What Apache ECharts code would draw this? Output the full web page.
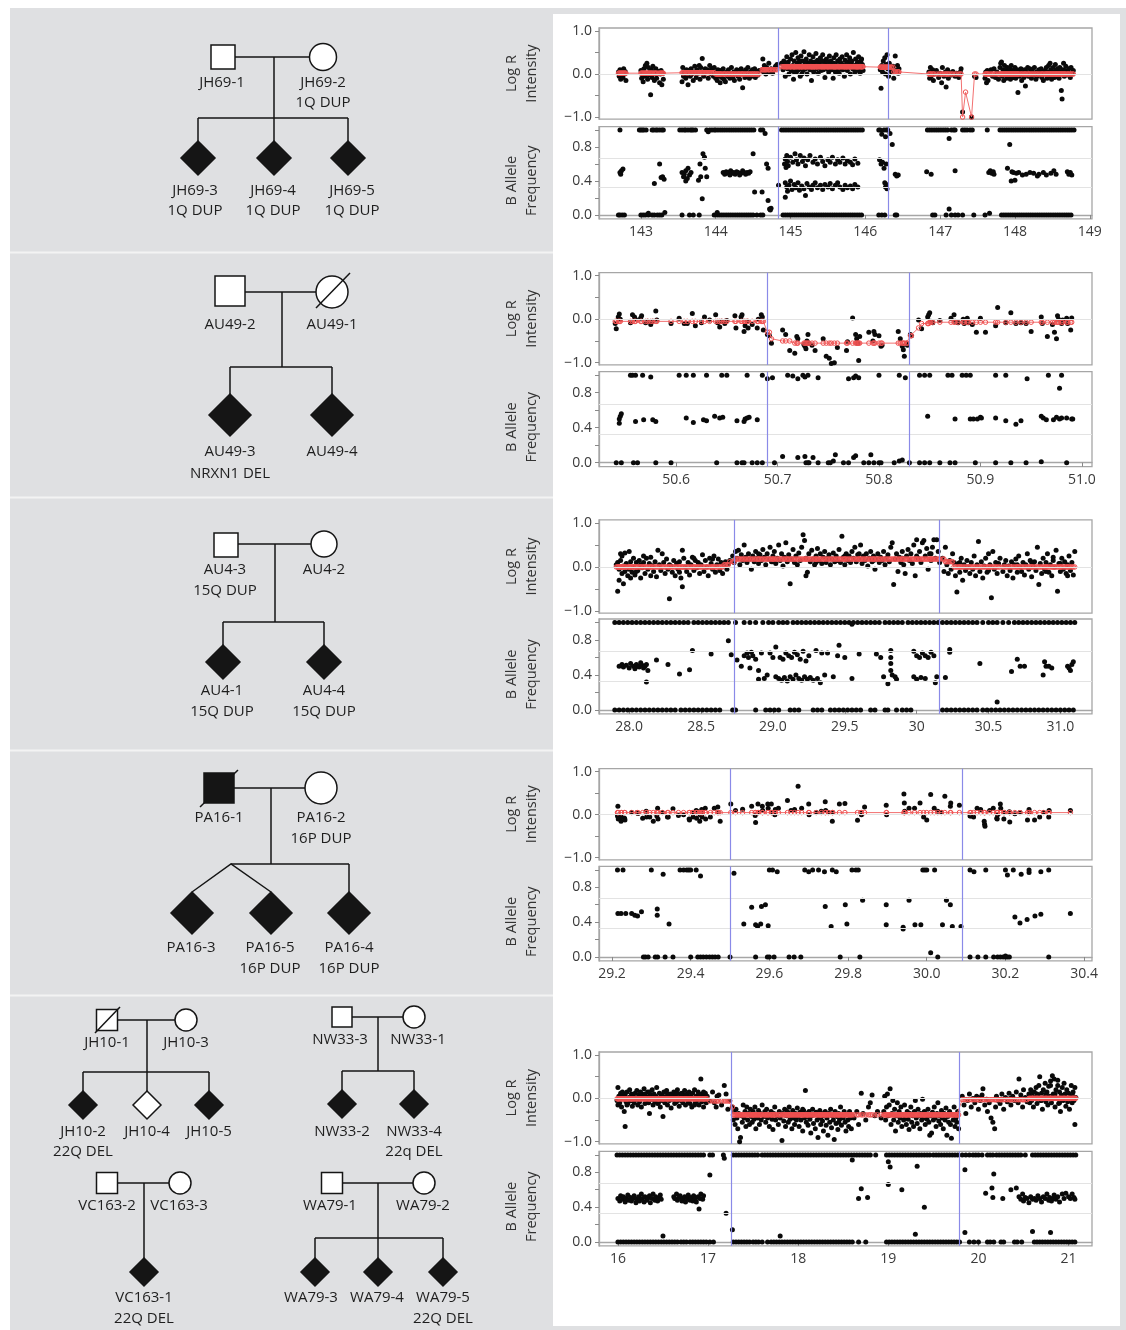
<!DOCTYPE html>
<html><head><meta charset="utf-8">
<script src="https://cdn.jsdelivr.net/npm/echarts@6/dist/echarts.min.js"></script>
<style>html,body{margin:0;padding:0;background:#fff}#c{width:1126px;height:1330px}</style>
</head><body><div id="c"></div>
<script>
// ---------------- tick values / labels ----------------
const LR_TICKS = [-1, -0.5, 0, 0.5, 1];
const LR_LABEL_VALUES = [-1, 0, 1];
const LR_LABELS = ['\u22121.0', '0.0', '1.0'];
const BAF_TICKS = [0, 0.2, 0.4, 0.6, 0.8, 1];
const BAF_LABEL_VALUES = [0, 0.4, 0.8];
const BAF_LABELS = ['0.0', '0.4', '0.8'];
const X1_TICKS = [143, 144, 145, 146, 147, 148, 149];
const X1_LABELS = ['143', '144', '145', '146', '147', '148', '149'];
const X2_TICKS = [50.6, 50.7, 50.8, 50.9, 51.0];
const X2_LABELS = ['50.6', '50.7', '50.8', '50.9', '51.0'];
const X3_TICKS = [28, 28.5, 29, 29.5, 30, 30.5, 31];
const X3_LABELS = ['28.0', '28.5', '29.0', '29.5', '30', '30.5', '31.0'];
const X4_TICKS = [29.2, 29.4, 29.6, 29.8, 30.0, 30.2, 30.4];
const X4_LABELS = ['29.2', '29.4', '29.6', '29.8', '30.0', '30.2', '30.4'];
const X5_TICKS = [16, 17, 18, 19, 20, 21];
const X5_LABELS = ['16', '17', '18', '19', '20', '21'];

// ---------------- breakpoints ----------------
const BRK1 = [144.83, 146.30];
const BRK2 = [50.692, 50.831];
const BRK3 = [28.727, 30.165];
const BRK4 = [29.505, 30.086];
const BRK5 = [17.26, 19.79];

// ---------------- row 1 (1q) ----------------
const LR1 = [142.70,.05,142.71,-.05,142.72,.1,142.73,-.12,142.74,.02,142.75,.08,142.76,-.08,142.77,.12,142.78,0,142.8,-.15,142.79,.06,
143.0,.08,143.01,-.1,143.02,.02,143.03,-.18,143.04,.12,143.05,-.05,143.06,.2,143.07,0,143.08,.25,143.09,-.12,143.1,.15,143.11,-.02,143.12,.05,143.13,-.48,143.14,.1,143.15,-.08,143.16,.18,143.18,-.15,143.19,.03,143.2,.12,143.21,-.1,143.23,.06,143.25,-.2,143.26,0,143.27,.08,143.28,-.25,143.3,-.12,143.29,.02,
143.55,-.18,143.56,.15,143.57,-.05,143.58,.05,143.6,-.1,143.61,.1,143.62,-.02,143.63,-.25,143.64,.08,143.66,-.05,143.67,.12,143.68,0,143.7,-.15,143.71,.05,143.72,.18,143.74,-.08,143.75,.1,143.76,.02,143.78,.2,143.79,-.12,143.8,.15,143.82,.36,143.83,.05,143.84,-.05,143.86,.12,143.87,.03,143.88,.1,143.9,-.1,143.91,.08,143.92,.2,143.94,0,143.95,.12,143.97,-.05,143.98,.15,
144.0,-.1,144.01,.05,144.02,-.15,144.03,.1,144.04,-.05,144.05,0,144.06,-.2,144.07,.08,144.08,-.08,144.1,.12,144.11,-.12,144.12,.02,144.13,-.18,144.15,.05,144.16,-.05,144.17,.1,144.19,-.1,144.2,0,144.21,.15,144.23,-.08,144.24,.05,144.25,-.15,144.27,.02,144.28,.1,144.3,-.05,144.31,.08,144.32,-.12,144.34,.12,144.35,0,144.36,-.32,144.37,.05,144.39,-.08,144.4,.1,144.42,-.02,144.43,.15,144.45,-.1,144.46,.05,144.48,-.05,144.49,.1,144.5,0,144.52,.12,144.53,-.08,144.55,.05,144.56,-.03,144.58,.08,
144.62,.1,144.63,.35,144.64,.05,144.65,.2,144.66,.12,144.67,0,144.68,.15,144.7,.08,144.71,.25,144.72,.05,144.74,.12,144.76,.02,144.78,.1,144.8,.18,144.82,.22,
144.88,.25,144.9,.1,144.91,.3,144.92,.15,144.93,-.05,144.94,.22,144.95,.4,144.96,.12,144.97,.28,144.98,0,144.99,.18,145.0,.35,145.01,.08,145.02,.45,145.03,.2,145.04,-.12,145.05,.3,145.06,.15,145.07,.5,145.08,.05,145.09,.25,145.1,.38,145.11,.1,145.12,.22,145.13,-.05,145.14,.42,145.15,.18,145.16,.3,145.17,.08,145.18,.52,145.19,.2,145.2,.12,145.21,.35,145.22,0,145.23,.25,145.24,.15,145.25,.45,145.26,.1,145.27,.3,145.28,-.15,145.29,.22,145.3,.4,145.31,.05,145.32,.28,145.33,.18,145.34,.48,145.35,.12,145.36,.32,145.37,.02,145.38,.25,145.39,.15,145.4,.38,145.41,.08,145.42,.2,145.43,.45,145.44,.1,145.45,.3,145.46,-.08,145.47,.22,145.48,.35,145.49,.12,145.5,.28,145.51,.05,145.52,.42,145.53,.18,145.54,.3,145.55,.1,145.56,.25,145.57,-.1,145.58,.38,145.59,.15,145.6,.22,145.61,.45,145.62,.08,145.63,.3,145.64,.18,145.65,.02,145.66,.35,145.67,.12,145.68,.25,145.69,.4,145.7,.1,145.71,.2,145.72,-.05,145.73,.32,145.74,.15,145.75,.45,145.76,.08,145.77,.28,145.78,.18,145.79,.38,145.8,0,145.81,.22,145.82,.3,145.83,.12,145.84,.5,145.85,.2,145.86,.05,145.87,.35,145.88,.15,145.89,.25,145.9,.1,145.91,.4,145.92,.18,145.93,.02,145.94,.3,145.95,.12,145.96,.22,145.97,.08,
144.95,.2,145.05,.05,145.12,.3,145.2,.25,145.28,.1,145.35,.22,145.42,.3,145.5,.15,145.58,.25,145.65,.2,145.72,.12,145.8,.3,145.88,.08,145.95,.35,145.0,.15,145.15,0,145.3,.2,145.45,.2,145.6,.05,145.75,.25,145.9,.28,
146.2,.1,146.21,-.33,146.22,.2,146.23,.05,146.24,.3,146.25,.15,146.26,.38,146.27,0,146.28,.22,146.29,.45,146.3,.12,146.31,-.05,146.32,.25,146.34,.1,146.35,.05,146.37,.18,146.38,-.1,146.4,.42,146.41,.08,146.43,.2,146.44,.02,146.45,.12,
146.85,.05,146.86,-.1,146.87,.15,146.88,-.05,146.9,.1,146.91,-.15,146.92,0,146.95,.08,146.98,-.08,147.0,.02,147.02,-.2,147.03,.15,147.05,-.05,147.07,.05,147.08,-.3,147.1,.1,147.11,-.1,147.13,.03,147.15,-.02,147.17,.06,147.2,-.05,147.22,.02,147.25,-.08,147.27,.05,147.28,.12,
147.3,-.88,147.42,-1.0,147.46,-.05,147.48,-.08,
147.6,-.1,147.61,.05,147.62,-.2,147.63,.08,147.64,-.15,147.66,0,147.68,.1,147.7,-.05,147.72,.12,147.74,-.08,147.76,.05,147.78,-.12,147.8,.15,147.81,.25,147.82,.28,147.83,-.05,147.84,.1,147.85,-.15,147.86,.2,147.87,0,147.88,.08,147.89,-.1,147.9,.15,147.91,.05,147.92,-.05,147.93,.12,147.94,-.12,147.95,.2,147.96,0,147.97,.08,147.98,-.08,147.99,.05,148.0,.15,148.01,-.1,148.02,.02,148.03,.1,148.04,-.43,148.05,.05,148.06,-.05,148.08,.12,148.09,-.15,148.1,.03,148.12,-.08,148.13,.1,148.14,-.28,148.15,.05,148.17,.15,148.18,-.05,148.19,.02,148.2,.12,148.22,-.1,148.23,.08,148.25,-.02,148.26,.15,148.28,-.12,148.29,.05,148.3,-.05,148.32,.1,148.33,0,148.35,.12,148.36,-.08,148.37,.05,148.38,-.15,148.4,.08,148.41,.02,148.42,.15,148.43,-.1,148.44,.05,148.45,.2,148.46,-.05,148.47,.25,148.48,.1,148.49,-.12,148.5,.05,148.51,.15,148.52,0,148.53,-.08,148.54,.22,148.55,.08,148.56,-.05,148.57,.12,148.58,.02,148.59,-.1,148.6,.15,148.61,.05,148.62,-.38,148.63,-.58,148.64,.1,148.65,.25,148.66,-.05,148.67,.08,148.68,.18,148.7,-.02,148.71,.05,148.72,.12,148.74,-.08,148.75,.15,148.77,.02,148.78,.08];
const SEG1 = [[142.6,143.4,.02],[143.4,144.0,.03],[144.0,144.6,0],[144.6,144.85,.1],[144.85,146.1,.17],[146.1,146.38,.16],[146.38,146.6,.05],[146.6,147.29,0],[147.29,147.33,-1.0],[147.33,147.37,-.42],[147.37,147.44,-1.0],[147.44,149.2,0]];
const RED1_EXTRA = [147.34,-.42];
const B1_TOP = [142.72,142.98,143.0,143.02,143.04,143.07,143.15,143.17,143.2,143.22,143.25,143.28,143.3,143.52,143.55,143.58,143.6,143.63,143.66,143.68,143.7,143.73,143.88,143.92,143.95,143.98,144.0,144.03,144.06,144.09,144.12,144.15,144.18,144.21,144.24,144.27,144.3,144.33,144.36,144.39,144.42,144.45,144.48,144.51,144.6,144.63,144.88,144.91,144.94,144.97,145.0,145.03,145.06,145.09,145.12,145.15,145.18,145.21,145.24,145.27,145.3,145.33,145.36,145.39,145.42,145.45,145.48,145.51,145.54,145.57,145.6,145.63,145.66,145.69,145.72,145.75,145.78,145.81,145.84,145.87,145.9,145.93,145.96,146.18,146.2,146.25,146.28,146.3,146.83,146.86,146.89,146.92,146.95,146.98,147.01,147.04,147.07,147.1,147.15,147.18,147.2,147.3,147.33,147.36,147.4,147.43,147.63,147.8,147.83,147.86,147.89,147.92,147.95,147.98,148.01,148.04,148.07,148.1,148.13,148.16,148.19,148.22,148.25,148.28,148.31,148.34,148.37,148.4,148.43,148.46,148.49,148.52,148.55,148.58,148.61,148.64,148.67,148.7,148.73,148.76,148.79];
const B1_BOT = [142.7,142.72,142.75,142.78,143.0,143.03,143.06,143.1,143.15,143.18,143.22,143.25,143.28,143.55,143.65,143.7,143.78,143.98,144.02,144.05,144.08,144.11,144.14,144.17,144.2,144.23,144.26,144.29,144.32,144.35,144.38,144.41,144.44,144.47,144.5,144.55,144.6,144.63,144.9,144.93,144.96,144.99,145.02,145.05,145.08,145.11,145.14,145.17,145.2,145.23,145.26,145.29,145.32,145.35,145.38,145.41,145.44,145.47,145.5,145.53,145.56,145.59,145.62,145.65,145.68,145.71,145.74,145.77,145.8,145.83,145.86,145.89,145.92,145.95,146.18,146.22,146.26,146.4,146.42,146.9,146.93,147.08,147.15,147.2,147.24,147.3,147.45,147.6,147.82,147.85,147.88,147.91,147.94,147.97,148.0,148.03,148.06,148.09,148.12,148.15,148.18,148.21,148.24,148.27,148.3,148.33,148.36,148.39,148.42,148.45,148.48,148.51,148.54,148.57,148.6,148.63,148.66,148.69,148.72,148.75];
const B1_HET = [142.72,.5,142.74,.52,142.76,.54,142.73,.48,143.18,.37,143.25,.6,143.29,.45,143.31,.42,143.27,.44,143.32,.03,143.1,.02,
143.55,.5,143.57,.45,143.58,.48,143.6,.52,143.62,.43,143.63,.55,143.65,.47,143.6,.4,143.67,.5,143.77,.41,143.79,.6,143.8,.45,143.82,.19,143.83,.72,143.85,.68,143.86,.55,143.88,.45,143.9,.98,144.02,.03,
144.1,.5,144.12,.48,144.14,.51,144.15,.49,144.17,.5,144.19,.47,144.2,.52,144.22,.49,144.24,.5,144.26,.48,144.28,.51,144.3,.5,144.32,.47,144.34,.49,144.36,.52,144.38,.5,144.4,.48,144.42,.5,144.44,.49,144.46,.51,
144.5,.72,144.52,.27,144.62,.27,144.68,.6,144.7,.55,144.7,.17,144.72,.07,144.74,.08,144.73,.06,144.66,.96,144.84,.35,
144.92,.6,144.93,.66,144.94,.56,144.95,.7,144.96,.63,144.97,.58,145.0,.68,145.03,.62,145.06,.72,145.08,.65,145.1,.6,145.13,.7,145.16,.63,145.18,.67,145.2,.58,145.23,.65,145.26,.7,145.3,.62,145.33,.66,145.36,.6,145.4,.68,145.43,.63,145.46,.58,145.5,.65,145.53,.62,145.56,.68,145.6,.6,145.63,.65,145.66,.62,145.7,.67,145.73,.6,145.76,.64,145.8,.62,145.83,.59,145.86,.66,145.9,.61,
144.93,.38,144.95,.33,144.96,.28,144.98,.35,145.0,.4,145.02,.3,145.05,.36,145.07,.32,145.1,.38,145.12,.29,145.15,.34,145.18,.31,145.2,.23,145.22,.37,145.25,.33,145.28,.3,145.3,.35,145.33,.38,145.36,.32,145.4,.35,145.43,.3,145.46,.36,145.5,.33,145.53,.37,145.56,.31,145.6,.35,145.63,.38,145.66,.33,145.7,.3,145.73,.35,145.76,.32,145.8,.34,145.83,.31,145.86,.36,145.9,.33,144.93,.21,
146.19,.65,146.21,.6,146.23,.62,146.25,.55,146.26,.38,146.27,.33,146.28,.36,146.29,.31,146.28,.6,146.22,.95,146.27,.92,146.33,.96,146.36,.83,146.4,.48,146.42,.46,146.44,.47,
146.82,.51,146.88,.48,147.12,.9,147.2,.52,147.12,.07,147.66,.02,
147.65,.5,147.67,.52,147.69,.49,147.71,.51,147.72,.48,147.9,.55,147.93,.83,147.95,.4,148.0,.41,147.96,.51,147.98,.5,148.02,.49,148.05,.5,148.1,.47,148.15,.48,148.2,.5,148.25,.49,148.3,.46,148.32,.48,148.38,.5,148.42,.47,148.48,.49,148.52,.52,148.55,.48,148.7,.51,148.72,.48,148.74,.5,148.76,.47];

// ---------------- row 2 (NRXN1) ----------------
const LR2 = [50.540,-.1,50.541,-.22,50.543,.05,50.544,.12,50.545,0,50.555,-.08,50.557,.1,50.559,.05,50.56,0,50.565,.02,50.566,.08,50.57,-.08,50.572,-.05,50.575,-.12,50.577,-.05,50.58,.19,50.581,-.02,50.595,-.1,50.603,.02,50.608,-.1,50.611,-.1,50.616,.13,50.619,-.15,50.625,-.08,50.628,.05,50.633,-.02,50.639,.1,50.641,-.08,50.643,-.18,50.645,-.05,50.648,-.1,50.650,-.03,50.658,.08,50.659,-.2,50.664,.05,50.665,.1,50.667,-.28,50.668,-.15,50.670,-.05,50.671,-.2,50.675,-.12,50.680,-.2,50.681,0,50.684,.1,50.685,.05,50.686,-.25,50.690,-.35,50.692,-.38,50.694,-.55,50.705,-.25,50.708,-.35,50.712,-.72,50.717,-.78,50.719,-.4,50.72,-.45,50.726,-.58,50.727,-.62,50.728,-.68,50.729,-.5,50.730,-.35,50.731,-.55,50.734,-.6,50.737,-.72,50.745,-.45,50.748,-.85,50.751,-.9,50.753,-1.02,50.756,-1.0,50.759,-.65,50.768,-.72,50.769,-.52,50.774,.03,50.777,-.35,50.778,-.45,50.779,-.55,50.780,-.95,50.781,-.4,50.79,-.3,50.794,-.5,50.795,-.28,50.796,-.35,50.8,-.38,50.802,-.62,50.803,-.6,50.819,-.28,50.821,-.45,50.823,-.62,50.824,-.7,50.825,-.85,50.827,-.55,50.828,-.6,50.831,-.35,50.832,-.38,50.839,-.02,50.842,-.22,50.848,.05,50.849,.1,50.85,.15,50.851,-.05,50.853,-.08,50.86,-.03,50.871,.02,50.874,.1,50.875,-.05,50.878,-.08,50.883,0,50.884,-.1,50.887,.02,50.888,-.08,50.892,-.12,50.896,-.3,50.9,.02,50.905,-.3,50.915,-.15,50.917,.27,50.925,-.08,50.930,.15,50.935,-.1,50.940,-.08,50.945,-.1,50.950,-.28,50.960,.05,50.961,-.1,50.966,-.4,50.971,-.12,50.973,-.3,50.975,-.45,50.976,.08,50.977,0,50.980,-.1,50.981,-.02,50.985,.02,50.986,-.1,50.989,-.25,50.99,.03];
const SEG2 = [[50.5,50.689,-.05],[50.689,50.693,-.3],[50.693,50.7,-.45],[50.7,50.715,-.5],[50.715,50.83,-.55],[50.83,50.835,-.38],[50.835,50.84,-.2],[50.84,50.85,-.1],[50.85,51.1,-.07]];
const RED2_EXTRA = [];
const B2_TOP = [50.555,50.557,50.56,50.567,50.603,50.61,50.617,50.63,50.645,50.65,50.67,50.685,50.71,50.725,50.73,50.8,50.82,50.84,50.845,50.85,50.868,50.872,50.882,50.886,50.89,50.915,50.925,50.967,50.98];
const B2_BOT = [50.541,50.546,50.558,50.562,50.58,50.595,50.64,50.66,50.665,50.667,50.675,50.68,50.685,50.697,50.728,50.73,50.731,50.74,50.75,50.752,50.765,50.77,50.785,50.79,50.795,50.8,50.802,50.815,50.83,50.84,50.845,50.85,50.86,50.87,50.875,50.895,50.915,50.93,50.945,50.985];
const B2_HET = [50.544,.5,50.545,.53,50.546,.56,50.544,.45,50.56,.47,50.568,.49,50.577,.49,50.58,.47,50.61,.51,50.617,.46,50.627,.49,50.63,.48,50.638,.53,50.643,.51,50.646,.52,50.66,.48,50.667,.47,50.668,.5,50.67,.51,50.672,.52,50.68,.49,50.848,.53,50.875,.5,50.89,.5,50.893,.5,50.897,.5,50.9,.52,50.901,.51,50.915,.51,50.925,.48,50.935,.44,50.94,.48,50.96,.53,50.962,.51,50.965,.49,50.972,.49,50.975,.52,50.978,.5,50.98,.51,50.985,.51,50.99,.5,50.991,.5,50.575,.98,50.69,.96,50.695,.97,50.715,.99,50.72,.96,50.727,.98,50.74,.97,50.77,.96,50.775,.97,50.777,.99,50.78,.97,50.826,.97,50.946,.96,50.978,.85,50.705,.07,50.72,.06,50.727,.07,50.735,.06,50.755,.02,50.757,.09,50.775,.06,50.777,.08,50.792,.09,50.82,.02,50.823,.03,50.96,.01];

// ---------------- row 3 (15q) ----------------
const LR3 = [27.91,.05,27.92,-.55,27.92,.1,27.93,-.3,27.93,-.05,27.94,.15,27.95,-.15,27.95,.25,27.96,-.38,27.96,.02,27.97,.32,27.97,-.1,27.98,.08,27.99,-.2,28.0,.35,28.0,-.05,28.01,.12,28.02,-.12,28.03,.2,28.03,0,28.04,-.18,28.05,.1,28.06,-.08,28.07,.15,28.08,-.25,28.08,.05,28.09,-.02,28.1,.1,28.11,-.15,28.12,.2,28.13,-.05,28.14,.08,28.15,-.2,28.16,.03,28.17,-.1,28.18,.12,28.19,-.22,28.2,.38,28.21,.05,28.22,-.08,28.23,.3,28.24,.1,28.25,-.15,28.26,.18,28.27,-.05,28.28,-.72,28.29,.02,28.3,-.12,28.31,.15,28.32,-.2,28.33,.08,28.34,-.05,28.35,.12,28.36,-.25,28.37,.38,28.37,-.45,28.38,.2,28.39,0,28.4,-.1,28.41,.1,28.42,-.18,28.43,.05,28.44,.22,28.45,-.08,28.46,.15,28.47,-.02,28.48,.1,28.49,-.15,28.5,.05,28.51,.28,28.52,-.1,28.53,.15,28.54,0,28.55,-.2,28.56,.2,28.57,.08,28.58,-.05,28.59,.25,28.6,-.12,28.61,.05,28.62,.18,28.63,-.08,28.64,.1,28.65,-.15,28.66,.02,28.67,.12,28.68,-.05,28.69,.08,28.7,.15,27.94,.3,28.01,-.25,28.1,.25,28.15,.22,28.28,.05,28.45,.2,28.58,.18,28.05,-.1,28.35,-.12,
28.72,.25,28.73,.1,28.74,.35,28.75,.2,28.76,.38,28.77,.05,28.78,.28,28.79,.15,28.8,.5,28.81,.22,28.82,.1,28.83,.3,28.84,.18,28.85,-.05,28.86,.25,28.87,.12,28.88,.35,28.89,.2,28.9,.08,28.91,.28,28.92,.15,28.93,.4,28.94,.22,28.95,.05,28.96,.3,28.97,.18,28.98,.45,28.99,.12,29.0,.25,29.01,.35,29.02,.08,29.03,.2,29.04,.5,29.05,.15,29.06,.3,29.07,.02,29.08,.22,29.09,.55,29.1,.12,29.11,.28,29.12,-.38,29.13,.18,29.14,.4,29.15,.1,29.16,.25,29.17,.05,29.18,.32,29.19,.15,29.2,.45,29.21,.73,29.22,.6,29.23,-.2,29.23,.2,29.24,-.12,29.25,.3,29.26,.12,29.27,.38,29.28,.18,29.29,.05,29.3,.25,29.31,.42,29.32,.15,29.33,.3,29.34,.08,29.35,.22,29.36,.35,29.37,.1,29.38,.2,29.39,.28,29.4,.05,29.41,.18,29.42,.32,29.43,.12,29.44,.25,29.45,.15,29.46,.4,29.47,.1,29.48,.7,29.49,.22,29.5,.05,29.51,.3,29.52,.15,29.53,.25,29.54,.1,29.55,.35,29.56,.2,29.57,.45,29.58,.12,29.59,.28,29.6,.18,29.61,.5,29.62,.08,29.63,.25,29.64,.15,29.65,.3,29.66,.02,29.67,.2,29.68,.35,29.69,.12,29.7,.25,29.71,-.05,29.72,.18,29.73,.3,29.74,.1,29.75,.22,29.76,.15,29.77,.35,29.78,.05,29.79,.2,29.8,.28,29.81,.12,29.82,.45,29.83,.55,29.84,-.4,29.85,.18,29.86,.3,29.87,-.1,29.88,.22,29.89,.1,29.9,.35,29.91,.05,29.92,-.15,29.93,.25,29.94,.4,29.95,.15,29.96,.3,29.97,.08,29.98,.5,29.99,-.2,30.0,.62,30.01,.2,30.02,.35,30.03,.1,30.04,.55,30.05,.6,30.06,.25,30.07,.42,30.08,-.05,30.09,.3,30.1,.15,30.11,.45,30.12,.62,30.13,.2,30.14,.62,30.15,.35,30.16,.1,28.9,.3,29.0,.12,29.1,.2,29.3,.1,29.5,.25,29.6,.3,29.7,.15,29.9,.2,30.0,.25,30.1,.3,
30.18,.2,30.19,-.1,30.2,.45,30.21,.05,30.22,-.15,30.23,.15,30.24,-.05,30.25,.3,30.26,.1,30.27,-.2,30.28,-.57,30.29,.08,30.3,-.12,30.31,.2,30.32,-.3,30.33,.05,30.34,-.08,30.35,.15,30.36,0,30.37,-.15,30.38,.1,30.39,-.05,30.4,.25,30.41,-.2,30.42,.05,30.43,.58,30.44,-.1,30.45,.12,30.46,-.25,30.47,.02,30.48,.2,30.49,-.12,30.5,.3,30.51,.05,30.52,-.7,30.53,.35,30.54,-.05,30.55,.1,30.56,-.15,30.57,.08,30.58,.2,30.6,-.1,30.61,.05,30.62,.15,30.63,-.2,30.64,.02,30.65,-.08,30.66,.12,30.67,-.25,30.68,.05,30.69,.18,30.7,-.12,30.71,.25,30.72,0,30.73,-.1,30.74,.1,30.75,-.18,30.76,.05,30.77,.3,30.78,-.05,30.79,.15,30.8,-.22,30.81,.02,30.82,.12,30.83,-.08,30.84,.45,30.85,-.4,30.86,.08,30.87,-.15,30.88,.2,30.89,-.05,30.9,.1,30.91,.3,30.92,-.12,30.93,.05,30.94,-.2,30.95,.15,30.96,0,30.97,.38,30.98,-.55,30.99,.08,31.0,-.1,31.01,.2,31.02,-.05,31.03,.12,31.04,-.15,31.05,.05,31.06,.25,31.07,-.08,31.08,.1,31.09,-.18,31.1,.35,30.9,-.1,30.95,.22,31.0,.08,31.05,-.2,30.8,.1,30.7,.05,30.5,-.08,30.3,.1];
const SEG3 = [[27.8,28.66,0],[28.66,28.7,.05],[28.7,28.74,.12],[28.74,30.2,.18],[30.2,30.26,.12],[30.26,31.3,0]];
const RED3_EXTRA = [];
const B3_TOP = [27.9,27.93,27.96,27.99,28.02,28.05,28.08,28.11,28.14,28.17,28.2,28.23,28.26,28.29,28.32,28.35,28.38,28.41,28.45,28.48,28.51,28.54,28.57,28.6,28.63,28.66,28.69,28.74,28.8,28.84,28.88,28.93,28.97,29.0,29.04,29.07,29.1,29.14,29.17,29.2,29.23,29.26,29.29,29.32,29.35,29.38,29.41,29.44,29.47,29.5,29.53,29.56,29.59,29.62,29.65,29.68,29.71,29.74,29.78,29.81,29.84,29.87,29.9,29.94,29.97,30.0,30.03,30.06,30.09,30.12,30.15,30.18,30.21,30.24,30.27,30.3,30.33,30.36,30.39,30.42,30.46,30.5,30.53,30.56,30.6,30.64,30.68,30.71,30.74,30.77,30.8,30.83,30.86,30.89,30.92,30.95,30.98,31.01,31.04,31.07,31.1];
const B3_BOT = [27.9,27.93,27.96,27.99,28.02,28.05,28.08,28.11,28.14,28.17,28.2,28.23,28.26,28.29,28.32,28.36,28.39,28.42,28.45,28.48,28.51,28.54,28.57,28.6,28.63,28.72,28.74,28.88,28.95,28.98,29.01,29.04,29.12,29.15,29.18,29.28,29.31,29.34,29.4,29.43,29.46,29.49,29.52,29.55,29.58,29.61,29.68,29.71,29.78,29.8,29.86,29.9,29.93,29.96,30.18,30.21,30.24,30.27,30.3,30.33,30.36,30.39,30.42,30.46,30.49,30.52,30.55,30.58,30.61,30.64,30.67,30.7,30.73,30.76,30.79,30.82,30.85,30.88,30.91,30.94,30.97,31.0,31.03,31.06,31.09];
const B3_HET = [27.93,.5,27.95,.52,27.96,.49,27.98,.51,28.0,.48,28.01,.53,28.03,.5,28.04,.47,28.05,.52,28.06,.5,28.07,.49,28.08,.54,28.09,.51,28.1,.48,28.11,.5,28.12,.32,28.13,.45,28.12,.52,
28.19,.57,28.27,.52,28.35,.41,28.42,.46,28.44,.68,28.57,.64,28.69,.79,28.71,.63,
28.75,.57,28.78,.5,28.8,.62,28.82,.65,28.83,.6,28.84,.48,28.85,.66,28.86,.62,28.88,.58,28.9,.45,28.9,.35,28.92,.65,28.94,.36,28.96,.4,28.98,.65,29.0,.6,29.02,.72,29.02,.38,29.04,.36,29.05,.6,29.06,.34,29.07,.58,29.08,.37,29.09,.65,29.1,.33,29.11,.62,29.12,.38,29.13,.6,29.14,.35,29.15,.66,29.16,.4,29.17,.63,29.18,.36,29.19,.58,29.2,.34,29.21,.67,29.22,.38,29.23,.56,29.24,.35,29.25,.62,29.26,.37,29.28,.34,29.3,.68,29.31,.36,29.33,.31,29.34,.65,
29.38,.65,29.36,.4,29.45,.62,29.46,.74,29.5,.6,29.42,.38,29.55,.36,29.6,.64,
29.72,.64,29.75,.6,29.77,.38,29.8,.3,29.82,.68,29.82,.6,29.82,.53,29.82,.45,29.83,.4,29.85,.38,29.86,.35,
29.98,.67,30.0,.62,30.02,.6,30.04,.65,30.06,.62,30.08,.6,30.1,.66,30.12,.62,29.98,.38,30.0,.35,30.03,.37,30.06,.36,30.13,.31,30.14,.38,30.2,.37,30.23,.69,30.23,.66,
30.44,.53,30.56,.09,30.66,.44,30.7,.58,30.72,.5,30.75,.5,30.88,.4,30.89,.55,30.9,.5,30.92,.5,30.94,.48,31.05,.5,31.07,.45,31.08,.52,31.09,.55,31.06,.48,29.55,.98];

// ---------------- row 4 (16p) ----------------
const LR4 = [29.214,-.03,29.215,.2,29.216,-.1,29.223,-.15,29.224,-.05,29.232,-.08,29.233,-.12,29.25,.05,29.264,.05,29.266,.03,29.278,-.08,29.287,.08,29.288,-.05,29.296,-.05,29.305,-.15,29.314,-.03,29.316,.15,29.317,-.1,29.328,.05,29.341,-.05,29.343,-.05,29.355,.14,29.369,-.02,29.382,0,29.396,-.1,29.397,-.12,29.405,.05,29.406,-.05,29.414,.1,29.415,-.08,29.416,.08,29.423,-.15,29.424,0,29.428,.12,29.429,-.05,29.43,.05,29.437,.15,29.438,-.1,29.45,-.05,29.46,.15,29.469,.18,29.47,.05,29.475,-.15,29.502,.25,29.514,.1,29.532,.13,29.555,.2,29.564,-.02,29.565,-.18,29.571,.25,29.572,.05,29.582,.2,29.583,.1,29.596,.25,29.597,.15,29.605,.25,29.606,.05,29.614,0,29.615,.12,29.623,.15,29.646,.33,29.655,.1,29.664,.12,29.673,.66,29.682,.15,29.7,.25,29.701,0,29.719,.05,29.732,.08,29.742,.3,29.743,.1,29.75,.05,29.76,-.15,29.761,.05,29.778,.25,29.792,.26,29.824,-.13,29.833,.05,29.834,0,29.842,.18,29.897,.22,29.898,0,29.942,.48,29.943,.27,29.944,.08,29.955,.15,29.969,.15,29.983,.27,29.992,-.05,30.0,-.12,30.01,.47,30.019,.15,30.028,.08,30.037,.05,30.046,.43,30.06,.2,30.061,.27,30.083,.22,30.11,-.03,30.112,-.03,30.119,-.05,30.128,.15,30.137,.12,30.146,-.15,30.147,-.22,30.148,-.27,30.16,.1,30.169,.15,30.178,-.08,30.179,-.1,30.18,0,30.187,.25,30.188,.15,30.196,-.1,30.197,.05,30.21,.07,30.211,-.17,30.224,.02,30.237,.05,30.256,-.12,30.26,.12,30.261,.05,30.274,-.12,30.287,-.05,30.297,.05,30.31,-.05,30.311,.1,30.365,.1];
const SEG4 = [[29.1,30.5,.05]];
const RED4_EXTRA = [];
const B4_TOP = [29.214,29.228,29.3,29.373,29.382,29.39,29.395,29.4,29.414,29.6,29.608,29.69,29.71,29.725,29.76,29.81,29.82,29.826,29.99,29.995,30.0,30.02,30.11,30.15,30.2,30.22,30.26,30.31];
const B4_BOT = [29.28,29.285,29.292,29.31,29.316,29.335,29.355,29.4,29.418,29.425,29.432,29.44,29.448,29.455,29.462,29.47,29.5,29.565,29.595,29.6,29.612,29.65,29.663,29.68,29.78,29.83,30.028,30.11,30.13,30.15,30.17,30.18,30.187,30.194,30.2,30.205,30.21,30.31];
const B4_HET = [29.215,.5,29.223,.5,29.235,.5,29.25,.5,29.258,.48,29.265,.47,29.275,.52,29.315,.55,29.315,.48,29.345,.38,29.535,.38,29.555,.57,29.565,.37,29.57,.35,29.578,.38,29.58,.58,29.59,.6,29.597,.36,29.742,.58,29.757,.35,29.793,.6,29.797,.38,29.837,.65,29.897,.6,29.897,.37,29.94,.34,29.94,.32,29.955,.65,29.97,.37,29.985,.37,30.04,.37,30.05,.65,30.06,.6,30.065,.35,30.087,.35,30.224,.46,30.237,.39,30.255,.43,30.275,.47,30.29,.49,30.365,.5,29.33,.95,29.425,.93,29.51,.96,29.62,.98,29.7,.98,29.74,.98,29.77,.98,30.12,.98,30.205,.94,30.24,.95,30.26,.97,30.29,.98,30.01,.05,30.2,.01];

// ---------------- row 5 (22q) ----------------
const LR5 = [15.99,-.05,16.0,.25,16.0,-.15,16.01,.05,16.02,-.1,16.03,.12,16.04,-.2,16.05,0,16.06,.08,16.07,-.3,16.08,-.65,16.08,.1,16.09,-.08,16.1,.15,16.11,-.12,16.12,.02,16.13,.2,16.14,-.05,16.15,.1,16.16,-.18,16.17,.05,16.18,-.1,16.19,.12,16.2,-.02,16.21,.18,16.22,-.15,16.23,.08,16.24,-.08,16.25,.05,16.26,-.2,16.27,.1,16.28,0,16.29,.22,16.3,-.12,16.31,.05,16.32,-.05,16.33,.15,16.34,-.1,16.35,-.35,16.36,.08,16.37,-.02,16.38,.2,16.39,-.15,16.4,.1,16.41,-.08,16.42,.05,16.43,.25,16.44,-.12,16.45,0,16.46,.12,16.47,-.2,16.48,.08,16.49,-.05,16.5,-.42,16.51,.15,16.52,-.1,16.53,.02,16.54,.18,16.55,-.15,16.56,.05,16.57,-.05,16.58,.1,16.59,-.22,16.6,.08,16.61,-.02,16.62,.15,16.63,-.12,16.64,.05,16.65,-.08,16.66,.2,16.67,0,16.68,-.18,16.69,.1,16.7,-.05,16.71,.12,16.72,-.1,16.73,.05,16.74,.18,16.75,-.15,16.76,.02,16.77,.1,16.78,-.08,16.79,.15,16.8,-.12,16.81,.05,16.82,-.2,16.83,.12,16.84,0,16.85,.2,16.86,-.1,16.87,.05,16.88,-.05,16.89,.15,16.9,-.15,16.91,.08,16.92,.45,16.93,-.08,16.94,.1,16.95,-.2,16.96,.02,16.97,.12,16.98,-.1,16.99,.05,16.05,.15,16.15,-.05,16.25,.15,16.35,.15,16.45,-.1,16.55,.1,16.65,.12,16.75,.08,16.85,-.15,16.95,.15,16.1,-.15,16.3,.1,16.5,.05,16.7,.1,16.9,.1,
17.02,-.05,17.05,.15,17.07,-.1,17.09,-.2,17.12,.08,17.15,-.15,17.18,.3,17.2,.1,17.22,-.25,17.1,.05,17.24,-.05,
17.27,-.2,17.28,-.5,17.29,-.3,17.3,-.6,17.31,-.25,17.32,-.45,17.33,-.7,17.34,-.35,17.35,-1.0,17.36,-.9,17.37,-.4,17.38,-.55,17.39,-.15,17.4,-.45,17.41,-.3,17.42,-.65,17.43,-.2,17.44,-.5,17.45,-.35,17.46,-.6,17.47,-.25,17.48,-.42,17.49,-.55,17.5,-.3,17.51,-.48,17.52,-.2,17.53,-.7,17.54,-.38,17.55,-.45,17.56,-.28,17.57,-.6,17.58,-.35,17.59,-.5,17.6,-.15,17.62,-.42,17.63,-.3,17.64,-.55,17.65,-.25,17.66,-.45,17.67,-.38,17.68,-.65,17.7,-.3,17.71,-.48,17.72,-.72,17.73,-.35,17.74,-.2,17.75,-.5,17.76,-.4,17.78,-.6,17.79,-.3,17.8,-.45,17.82,-.97,17.83,-.35,17.84,-.52,17.85,-.25,17.86,-.65,17.87,-.4,17.88,-.3,17.89,-.55,17.9,-.2,17.91,-.48,17.92,-.38,17.93,-.7,17.94,-.28,17.95,-.45,17.96,-.6,17.97,-.35,17.98,-.5,17.99,-.22,18.0,-.42,18.01,-.65,18.02,-.32,18.03,-.5,18.04,-.38,18.05,-.75,18.06,-.28,18.07,-.45,18.08,.18,18.09,-.55,18.1,-.35,18.11,-.62,18.12,-.3,18.13,-.48,18.14,-.8,18.15,-.4,18.16,-.25,18.17,-.58,18.18,-.38,18.19,-.7,18.2,-.32,18.21,-.5,18.22,-.9,18.23,-.42,18.24,-.28,18.25,-.6,18.26,-.35,18.27,-.52,18.28,-.75,18.29,-.4,18.3,-.3,18.31,-.62,18.32,-.45,18.33,-.85,18.34,-.35,18.35,-.55,18.36,-.25,18.37,-.68,18.38,-.4,18.39,-.5,18.4,-.95,18.41,-.3,18.42,-.58,18.43,-.42,18.44,-.72,18.45,-.35,18.46,-.48,18.47,-.2,18.48,-.62,18.49,-.4,18.5,-1.08,18.51,-.3,18.52,-.55,18.53,-.75,18.54,-.38,18.55,-.5,18.56,-.65,18.57,-.3,18.58,-.45,18.59,-.7,18.6,-.4,17.5,-.4,17.7,-.4,17.9,-.35,18.1,-.42,18.3,-.38,18.5,-.45,18.05,-.25,18.25,-.45,18.45,-.55,
18.62,-.45,18.65,-.3,18.67,-.6,18.7,.12,18.72,-.35,18.75,-.5,18.78,-.2,18.8,-.1,18.82,.08,18.85,-.4,18.88,-.3,18.92,-.45,
18.95,-.3,18.96,.05,18.97,-.5,18.98,-.2,18.99,.1,19.0,-.4,19.01,-.15,19.02,.22,19.03,-.6,19.04,-.35,19.05,-.05,19.06,-.5,19.07,-.25,19.08,-.75,19.09,-.4,19.1,-.1,19.11,-.55,19.12,-.3,19.13,-.45,19.14,-.2,19.15,-.65,19.16,-.38,19.17,-.5,19.18,-.15,19.19,-.42,19.2,-.6,19.21,-.3,19.22,-.48,19.23,-.72,19.24,-.35,19.25,-.2,19.26,-.55,19.27,-.4,19.28,-.65,19.29,-.3,19.3,-.05,19.31,-.45,19.32,-.58,19.33,-.25,19.34,-.4,19.35,-.7,19.36,-.35,19.37,-.5,19.38,-.02,19.39,-.42,19.4,-.3,19.41,-.6,19.42,-.38,19.43,-.48,19.44,-.25,19.45,-.55,19.46,-.85,19.47,-.4,19.48,-.8,19.49,-.32,19.5,-.5,19.51,-.2,19.52,-.45,19.53,-.65,19.54,-.35,19.55,-.1,19.56,-.52,19.57,-.4,19.58,-.6,19.59,-.28,19.6,-.45,19.61,-.7,19.62,-.35,19.63,-.5,19.64,-.22,19.65,-.85,19.66,-.42,19.67,-.55,19.68,-.3,19.69,-.6,19.7,-.92,19.71,-.38,19.72,-.5,19.73,-.2,19.74,-.65,19.75,-.4,19.76,-.55,19.77,-.3,19.78,-.7,19.2,-.4,19.4,-.45,19.6,-.35,19.75,-.45,
19.82,.05,19.84,-.15,19.86,-.35,19.88,-.05,19.9,.1,19.92,-.2,19.94,0,19.96,-.1,19.98,.05,20.0,-.25,20.02,-.05,20.04,.08,20.05,.22,20.07,-.15,20.09,-.02,20.1,-.3,20.12,-.1,20.14,-.45,20.16,-.55,20.18,-.7,20.19,-.2,20.2,.05,20.22,-.05,20.24,-.12,20.26,.1,20.28,-.25,20.3,.02,20.32,-.08,20.34,.12,20.36,-.15,20.38,.05,20.4,-.05,20.42,.15,20.44,-.1,20.45,.45,20.47,.08,20.49,-.2,20.5,.2,20.52,.02,20.54,-.08,20.0,.02,20.25,-.02,20.35,0,
20.56,.1,20.57,-.1,20.58,.2,20.59,-.05,20.6,.05,20.61,-.2,20.62,.15,20.63,0,20.64,.25,20.65,-.12,20.66,.08,20.67,.3,20.68,.5,20.69,-.05,20.7,.12,20.71,-.25,20.72,.2,20.73,.02,20.74,.35,20.75,-.08,20.76,.15,20.77,-.15,20.78,.28,20.79,.05,20.8,.4,20.81,-.1,20.82,.52,20.83,.1,20.84,.45,20.85,-.2,20.86,.2,20.87,0,20.88,.3,20.89,-.12,20.9,.15,20.91,-.3,20.92,.08,20.93,.25,20.94,-.05,20.95,.35,20.96,.1,20.97,-.18,20.98,.2,20.99,-.08,21.0,.12,21.01,-.25,21.02,.05,21.03,.3,21.04,-.1,21.05,.15,21.06,-.05,21.07,-.6,21.07,.25,21.08,.02,20.6,.15,20.65,.1,20.7,-.05,20.75,.1,20.8,0,20.85,.1,20.9,-.1,20.95,.05,21.0,-.02,21.05,.05,20.8,.3,20.88,.42];
const SEG5 = [[15.9,17.0,-.01],[17.0,17.015,-.25],[17.015,17.25,-.06],[17.25,17.275,-.2],[17.275,19.79,-.38],[19.79,20.555,-.03],[20.555,21.2,0]];
const RED5_EXTRA = [];
const B5_TOP = [15.99,16.02,16.05,16.08,16.11,16.14,16.17,16.2,16.23,16.26,16.29,16.32,16.35,16.38,16.41,16.44,16.47,16.5,16.53,16.56,16.59,16.62,16.65,16.68,16.71,16.74,16.77,16.8,16.83,16.86,16.89,16.92,16.95,17.02,17.05,17.17,17.28,17.31,17.34,17.37,17.4,17.43,17.46,17.49,17.52,17.55,17.6,17.63,17.66,17.69,17.72,17.75,17.78,17.81,17.84,17.87,17.9,17.93,17.96,17.99,18.02,18.05,18.08,18.11,18.14,18.17,18.2,18.23,18.26,18.29,18.32,18.35,18.38,18.41,18.44,18.47,18.5,18.53,18.56,18.59,18.62,18.65,18.68,18.71,18.74,18.77,18.8,18.86,18.98,19.01,19.04,19.07,19.1,19.13,19.16,19.19,19.22,19.25,19.28,19.31,19.34,19.37,19.4,19.43,19.46,19.5,19.53,19.56,19.59,19.62,19.65,19.68,19.71,19.74,19.77,19.82,19.86,19.9,19.94,19.97,20.0,20.04,20.1,20.13,20.16,20.2,20.23,20.26,20.29,20.32,20.35,20.38,20.41,20.44,20.47,20.52,20.6,20.63,20.66,20.69,20.72,20.75,20.78,20.81,20.84,20.87,20.9,20.93,20.96,20.99,21.02,21.05,21.08];
const B5_BOT = [16.0,16.03,16.06,16.09,16.12,16.15,16.18,16.21,16.24,16.27,16.3,16.33,16.36,16.39,16.42,16.45,16.48,16.51,16.54,16.57,16.6,16.63,16.66,16.7,16.73,16.76,16.8,16.83,16.86,16.89,16.92,16.95,16.98,17.02,17.06,17.28,17.31,17.34,17.37,17.4,17.43,17.46,17.5,17.53,17.56,17.6,17.66,17.7,17.73,17.76,17.79,17.82,17.85,17.88,17.91,17.94,17.97,18.0,18.03,18.06,18.09,18.12,18.15,18.18,18.21,18.24,18.27,18.3,18.33,18.36,18.39,18.42,18.45,18.48,18.51,18.54,18.57,18.6,18.67,18.75,18.98,19.01,19.04,19.07,19.1,19.13,19.16,19.19,19.22,19.25,19.28,19.31,19.34,19.37,19.4,19.43,19.46,19.49,19.52,19.55,19.58,19.61,19.64,19.67,19.7,19.73,19.76,19.79,19.9,19.95,20.0,20.1,20.13,20.17,20.25,20.28,20.4,20.43,20.48,20.62,20.65,20.68,20.71,20.74,20.77,20.8,20.83,20.86,20.89,20.92,20.95,20.98,21.01,21.04,21.07];
const B5_HET = [16.0,.5,16.02,.47,16.03,.53,16.05,.49,16.06,.52,16.08,.46,16.09,.5,16.11,.54,16.12,.48,16.14,.51,16.15,.47,16.17,.5,16.18,.53,16.2,.45,16.21,.49,16.23,.52,16.24,.47,16.26,.55,16.27,.5,16.29,.46,16.3,.52,16.32,.48,16.33,.5,16.35,.53,16.36,.45,16.38,.5,16.39,.55,16.41,.48,16.42,.52,16.44,.47,16.45,.5,16.47,.54,16.48,.49,
16.62,.52,16.63,.5,16.65,.55,16.66,.48,16.68,.51,16.69,.53,16.71,.47,16.72,.5,16.74,.52,16.75,.46,16.77,.5,16.78,.54,16.8,.48,16.81,.51,16.83,.47,16.84,.53,16.86,.5,16.87,.46,16.89,.52,16.9,.38,16.91,.5,16.92,.55,16.94,.49,16.95,.53,
16.5,.07,17.02,.77,17.2,.33,17.27,.14,17.8,.07,17.18,.96,18.6,.94,18.67,.5,18.7,.61,18.77,.51,19.0,.92,19.02,.86,19.0,.66,19.15,.6,19.32,.87,19.4,.4,19.3,.09,19.85,.83,19.85,.11,
20.08,.56,20.15,.62,20.17,.78,20.16,.51,20.27,.5,20.36,.6,20.42,.62,20.45,.52,20.47,.49,20.49,.55,20.5,.47,20.52,.51,20.54,.5,20.56,.45,20.58,.52,20.6,.49,20.62,.5,20.64,.48,20.66,.53,20.68,.5,20.7,.46,20.72,.52,20.74,.5,20.76,.55,20.78,.48,20.79,.51,20.81,.47,20.83,.5,20.84,.54,20.86,.49,20.88,.52,20.9,.46,20.93,.55,20.95,.5,20.97,.56,21.0,.52,21.02,.5,21.04,.55,21.06,.51,21.07,.49,20.6,.12,20.8,.11];

// ---------------- helpers ----------------
function pairs(a){const r=[];for(let i=0;i<a.length;i+=2)r.push([a[i],a[i+1]]);return r;}
function band(xs,y){return xs.map(x=>[x,y]);}
function segVal(segs,x){for(const s of segs){if(x>=s[0]&&x<s[1])return s[2];}return null;}
function redLine(lr,segs,extra){
  const pts=pairs(lr).map(p=>[p[0],segVal(segs,p[0])]).concat(pairs(extra));
  pts.sort((a,b)=>a[0]-b[0]);return pts;
}
function fmt(vals,labs){return v=>{const i=vals.findIndex(t=>Math.abs(t-v)<1e-6);return i>=0?labs[i]:'';};}

// ---------------- layout ----------------
const LEFT=599, WIDTH=493, BOX='#a6a6a6', FONT='"Open Sans", "Noto Sans", sans-serif';
const LR_RANGE=[-1.05,1.07], BAF_RANGE=[-0.045,1.04];
const ROWS=[
 {lr:LR1,seg:SEG1,ex:RED1_EXTRA,top:B1_TOP,bot:B1_BOT,het:B1_HET,brk:BRK1,xr:[142.44,149.03],xt:X1_TICKS,xl:X1_LABELS,gL:[28,91.2],gB:[126.6,92.2]},
 {lr:LR2,seg:SEG2,ex:RED2_EXTRA,top:B2_TOP,bot:B2_BOT,het:B2_HET,brk:BRK2,xr:[50.524,51.01],xt:X2_TICKS,xl:X2_LABELS,gL:[272.6,92.3],gB:[371.7,94.9]},
 {lr:LR3,seg:SEG3,ex:RED3_EXTRA,top:B3_TOP,bot:B3_BOT,het:B3_HET,brk:BRK3,xr:[27.79,31.22],xt:X3_TICKS,xl:X3_LABELS,gL:[519.9,93.3],gB:[619,94.9]},
 {lr:LR4,seg:SEG4,ex:RED4_EXTRA,top:B4_TOP,bot:B4_BOT,het:B4_HET,brk:BRK4,xr:[29.167,30.42],xt:X4_TICKS,xl:X4_LABELS,gL:[768.7,91.2],gB:[866.4,94.5]},
 {lr:LR5,seg:SEG5,ex:RED5_EXTRA,top:B5_TOP,bot:B5_BOT,het:B5_HET,brk:BRK5,xr:[15.79,21.26],xt:X5_TICKS,xl:X5_LABELS,gL:[1052,91.9],gB:[1151.4,94.5]}
];

const grids=[],xAxes=[],yAxes=[],series=[],G=[];
const labelStyle={color:'#3a3a3a',fontSize:14,fontFamily:FONT};
function guideSeries(idx,brk,hlines){
  return {type:'scatter',xAxisIndex:idx,yAxisIndex:idx,data:[],silent:true,z:1,
    markLine:{silent:true,symbol:['none','none'],label:{show:false},animation:false,
      data:hlines.map(v=>({yAxis:v,lineStyle:{color:'#e3e3e3',width:1,type:'solid',opacity:1}}))
        .concat(brk.map(v=>({xAxis:v,lineStyle:{color:'#8a8ae8',width:1.2,type:'solid',opacity:1}})))}};
}
ROWS.forEach(r=>{
  // Log R panel
  let gi=grids.length;
  grids.push({left:LEFT,width:WIDTH,top:r.gL[0],height:r.gL[1],show:true,borderColor:BOX,borderWidth:1.3});
  xAxes.push({gridIndex:gi,type:'value',min:r.xr[0],max:r.xr[1],axisLine:{show:false},axisTick:{show:false},axisLabel:{show:false},splitLine:{show:false}});
  yAxes.push({gridIndex:gi,type:'value',min:LR_RANGE[0],max:LR_RANGE[1],
    axisLine:{show:true,lineStyle:{color:BOX,width:1.3}},
    axisTick:{show:true,customValues:LR_TICKS,length:4,lineStyle:{color:'#888'}},
    axisLabel:Object.assign({customValues:LR_LABEL_VALUES,formatter:fmt(LR_LABEL_VALUES,LR_LABELS),margin:7},labelStyle),
    splitLine:{show:false}});
  series.push(guideSeries(gi,r.brk,[0]));
  series.push({type:'scatter',xAxisIndex:gi,yAxisIndex:gi,data:pairs(r.lr),symbolSize:5,itemStyle:{color:'#0a0a0a',opacity:1},z:3,silent:true});
  series.push({type:'line',xAxisIndex:gi,yAxisIndex:gi,data:redLine(r.lr,r.seg,r.ex),showAllSymbol:true,symbol:'circle',symbolSize:4.5,
    itemStyle:{color:'rgba(0,0,0,0)',borderColor:'#f05050',borderWidth:1,opacity:1},lineStyle:{color:'#f27070',width:1,opacity:1},z:4,silent:true});
  // BAF panel
  gi=grids.length;
  grids.push({left:LEFT,width:WIDTH,top:r.gB[0],height:r.gB[1],show:true,borderColor:BOX,borderWidth:1.3});
  xAxes.push({gridIndex:gi,type:'value',min:r.xr[0],max:r.xr[1],
    axisLine:{show:true,lineStyle:{color:BOX,width:1.3}},
    axisTick:{show:true,customValues:r.xt,length:4,lineStyle:{color:'#888'}},
    axisLabel:Object.assign({customValues:r.xt,formatter:fmt(r.xt,r.xl),margin:6},labelStyle),
    splitLine:{show:false}});
  yAxes.push({gridIndex:gi,type:'value',min:BAF_RANGE[0],max:BAF_RANGE[1],
    axisLine:{show:true,lineStyle:{color:BOX,width:1.3}},
    axisTick:{show:true,customValues:BAF_TICKS,length:4,lineStyle:{color:'#888'}},
    axisLabel:Object.assign({customValues:BAF_LABEL_VALUES,formatter:fmt(BAF_LABEL_VALUES,BAF_LABELS),margin:7},labelStyle),
    splitLine:{show:false}});
  series.push(guideSeries(gi,r.brk,[1/3,2/3]));
  series.push({type:'scatter',xAxisIndex:gi,yAxisIndex:gi,data:band(r.top,1).concat(band(r.bot,0),pairs(r.het)),symbolSize:5,itemStyle:{color:'#0a0a0a',opacity:1},z:3,silent:true});
  // axis titles
  G.push({type:'text',x:522,y:r.gL[0]+r.gL[1]/2,rotation:Math.PI/2,z:20,
    style:{text:'Log R\nIntensity',fill:'#333',font:'14.5px '+FONT,align:'center',verticalAlign:'middle',textAlign:'center',textVerticalAlign:'middle',lineHeight:20}});
  G.push({type:'text',x:522,y:r.gB[0]+r.gB[1]/2+8,rotation:Math.PI/2,z:20,
    style:{text:'B Allele\nFrequency',fill:'#333',font:'14.5px '+FONT,align:'center',verticalAlign:'middle',textAlign:'center',textVerticalAlign:'middle',lineHeight:20}});
});

// ---------------- background & pedigrees ----------------
const BG=[];
BG.push({type:'rect',shape:{x:10,y:8,width:1116,height:1322},style:{fill:'#dfe0e2'},z:-100,silent:true});
BG.push({type:'rect',shape:{x:553,y:14,width:567,height:1312},style:{fill:'#ffffff'},z:-99,silent:true});
[252.5,497.5,750.5,995.5].forEach(y=>BG.push({type:'line',shape:{x1:10,y1:y,x2:553,y2:y},style:{stroke:'#f3f3f3',lineWidth:2},z:-98,silent:true}));

const INK='#151515', LW=1.5;
function ln(pts){G.push({type:'polyline',shape:{points:pts},style:{stroke:INK,lineWidth:LW,fill:null},z:10,silent:true});}
function sq(cx,cy,s,fill){G.push({type:'rect',shape:{x:cx-s/2,y:cy-s/2,width:s,height:s},style:{fill:fill?INK:'#fff',stroke:INK,lineWidth:LW},z:11,silent:true});}
function ci(cx,cy,r){G.push({type:'circle',shape:{cx:cx,cy:cy,r:r},style:{fill:'#fff',stroke:INK,lineWidth:LW},z:11,silent:true});}
function di(cx,cy,h,fill){G.push({type:'polygon',shape:{points:[[cx,cy-h],[cx+h,cy],[cx,cy+h],[cx-h,cy]]},style:{fill:fill===false?'#fff':INK,stroke:INK,lineWidth:LW},z:11,silent:true});}
function sl(x1,y1,x2,y2){G.push({type:'line',shape:{x1:x1,y1:y1,x2:x2,y2:y2},style:{stroke:INK,lineWidth:LW},z:12,silent:true});}
function tx(x,y,t){G.push({type:'text',x:x,y:y,z:12,silent:true,style:{text:t,fill:'#1e1e1e',font:'15px '+FONT,align:'center',verticalAlign:'middle',textAlign:'center',textVerticalAlign:'middle'}});}

// JH69
ln([[235,57],[310,57]]); ln([[274,57],[274,118]]); ln([[198,118],[348,118]]);
ln([[198,118],[198,142]]); ln([[274,118],[274,142]]); ln([[348,118],[348,142]]);
sq(223,57,24,false); ci(323,57,13.5);
di(198,158,17); di(274,158,17); di(348,158,17);
tx(222,83,'JH69-1'); tx(323,83,'JH69-2'); tx(323,103,'1Q DUP');
tx(195,191,'JH69-3'); tx(195,211,'1Q DUP'); tx(273,191,'JH69-4'); tx(273,211,'1Q DUP'); tx(352,191,'JH69-5'); tx(352,211,'1Q DUP');
// AU49
ln([[245,292],[316,292]]); ln([[282,292],[282,367]]); ln([[230,367],[332,367]]);
ln([[230,367],[230,395]]); ln([[332,367],[332,395]]);
sq(230,291,30,false); ci(332,292,16); sl(316,308,350,273);
di(230,415,21); di(332,415,21);
tx(230,325,'AU49-2'); tx(332,325,'AU49-1'); tx(230,452,'AU49-3'); tx(230,474,'NRXN1 DEL'); tx(332,452,'AU49-4');
// AU4
ln([[238,544],[311,544]]); ln([[275,544],[275,622]]); ln([[223,622],[324,622]]);
ln([[223,622],[223,645]]); ln([[324,622],[324,645]]);
sq(226,545,24,false); ci(324,544,13);
di(223,662,17); di(324,662,17);
tx(225,570,'AU4-3'); tx(225,591,'15Q DUP'); tx(324,570,'AU4-2');
tx(222,691,'AU4-1'); tx(222,712,'15Q DUP'); tx(324,691,'AU4-4'); tx(324,712,'15Q DUP');
// PA16
ln([[234,788],[305,788]]); ln([[271,788],[271,864]]); ln([[231,864],[349,864]]);
ln([[192,892],[231,864],[271,892]]); ln([[349,864],[349,892]]);
sq(219,788,30,true); sl(200,807,238,770); ci(321,788,16);
di(192,913,21); di(271,913,21); di(349,913,21);
tx(219,818,'PA16-1'); tx(321,818,'PA16-2'); tx(321,839,'16P DUP');
tx(191,948,'PA16-3'); tx(270,948,'PA16-5'); tx(270,969,'16P DUP'); tx(349,948,'PA16-4'); tx(349,969,'16P DUP');
// JH10
ln([[117.5,1020],[175,1020]]); ln([[147,1020],[147,1072]]); ln([[83,1072],[209,1072]]);
ln([[83,1072],[83,1091]]); ln([[147,1072],[147,1091]]); ln([[209,1072],[209,1091]]);
sq(107,1020,21,false); sl(95,1033,120,1007); ci(186,1020,11);
di(83,1105,14); di(147,1105,14,false); di(209,1105,14);
tx(107,1043,'JH10-1'); tx(186,1043,'JH10-3'); tx(83,1132,'JH10-2'); tx(83,1152,'22Q DEL'); tx(147,1132,'JH10-4'); tx(209,1132,'JH10-5');
// NW33
ln([[352,1017],[403,1017]]); ln([[378,1017],[378,1071]]); ln([[342,1071],[414,1071]]);
ln([[342,1071],[342,1090]]); ln([[414,1071],[414,1090]]);
sq(342,1017,20,false); ci(414,1017,11);
di(342,1104,14); di(414,1104,14);
tx(340,1040,'NW33-3'); tx(418,1040,'NW33-1'); tx(342,1132,'NW33-2'); tx(414,1132,'NW33-4'); tx(414,1152,'22q DEL');
// VC163
ln([[117.5,1183],[169,1183]]); ln([[144,1183],[144,1258]]);
sq(107,1183,21,false); ci(180,1183,11); di(144,1272,14);
tx(107,1206,'VC163-2'); tx(179,1206,'VC163-3'); tx(144,1298,'VC163-1'); tx(144,1319,'22Q DEL');
// WA79
ln([[343,1183],[413,1183]]); ln([[378,1183],[378,1238]]); ln([[315,1238],[443,1238]]);
ln([[315,1238],[315,1258]]); ln([[378,1238],[378,1258]]); ln([[443,1238],[443,1258]]);
sq(332,1183,21,false); ci(424,1183,11);
di(315,1272,14); di(378,1272,14); di(443,1272,14);
tx(330,1206,'WA79-1'); tx(423,1206,'WA79-2'); tx(311,1298,'WA79-3'); tx(377,1298,'WA79-4'); tx(443,1298,'WA79-5'); tx(443,1319,'22Q DEL');

const chart=echarts.init(document.getElementById('c'),null,{renderer:'canvas'});
chart.setOption({
  animation:false,backgroundColor:'#ffffff',
  graphic:{elements:BG.concat(G)},
  grid:grids,xAxis:xAxes,yAxis:yAxes,series:series
});
</script></body></html>
